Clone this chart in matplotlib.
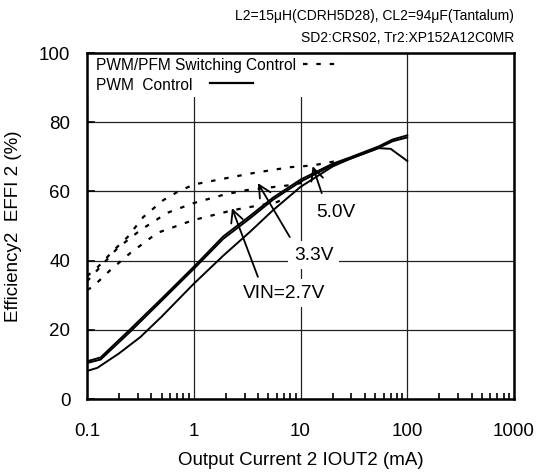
import numpy as np
import matplotlib
matplotlib.use('Agg')
import matplotlib.pyplot as plt
from matplotlib.patches import Rectangle

plt.rcParams['font.family'] = ['Liberation Sans', 'DejaVu Sans']

# PWM control (solid)
pwm_i_27 = [0.1, 0.125, 0.2, 0.316, 0.5, 1.0, 1.9, 3.36, 5.5, 10, 20, 29, 54, 70, 100]
pwm_e_27 = [8.1, 9.0, 13.2, 17.9, 23.8, 33.3, 41.5, 48.3, 54.5, 61.3, 67.2, 69.4, 72.5, 72.3, 68.8]
pwm_i_33 = [0.1, 0.134, 0.255, 0.5, 1.0, 1.89, 3.36, 5.53, 10, 20, 29, 54, 73, 100]
pwm_e_33 = [10.4, 11.4, 19.5, 28.4, 37.6, 46.3, 52.2, 57.6, 62.8, 67.6, 69.4, 72.6, 74.5, 75.6]
pwm_i_50 = [0.1, 0.134, 0.255, 0.5, 1.0, 1.89, 3.36, 5.53, 10, 20, 29, 54, 73, 100]
pwm_e_50 = [10.9, 12.0, 20.2, 29.0, 38.2, 47.0, 52.9, 58.2, 63.4, 68.0, 69.8, 73.0, 75.0, 76.2]

# PWM/PFM switching control (dotted)
pfm_i_27 = [0.1, 0.113, 0.166, 0.255, 0.455, 0.99, 2.35, 6.0, 7.5]
pfm_e_27 = [31.5, 32.4, 37.3, 42.2, 48.0, 51.7, 54.6, 56.9, 58.3]
pfm_i_33 = [0.1, 0.193, 0.316, 0.565, 0.99, 1.89, 3.16, 8.0, 10, 12]
pfm_e_33 = [34.0, 43.6, 48.8, 53.8, 56.6, 59.0, 60.4, 61.8, 62.4, 63.3]
pfm_i_50 = [0.1, 0.125, 0.177, 0.24, 0.337, 0.52, 0.7, 1.0, 2.0, 3.6, 8.0, 13, 22]
pfm_e_50 = [35.5, 38.0, 42.9, 46.8, 52.6, 57.5, 59.8, 62.0, 63.8, 65.3, 67.0, 67.5, 68.8]

x_ticks = [0.1, 1, 10, 100, 1000]
x_tick_labels = ['0.1', '1', '10', '100', '1000']
y_ticks = [0, 20, 40, 60, 80, 100]

# labels: (text, arrow tip, arrow tail, text position)
labels = [
    ('5.0V', (13.0, 67.3), (15.8, 59.5), (21.4, 53.8)),
    ('3.3V', (3.99, 62.4), (7.94, 46.8), (13.3, 41.6)),
    ('VIN=2.7V', (2.28, 55.2), (3.99, 35.3), (6.98, 30.6)),
]

fig = plt.figure(figsize=(5.37, 4.76), dpi=100)
ax = fig.add_axes([87 / 537, 77 / 476, 427 / 537, 346 / 476])

ax.set_xscale('log')
ax.set_xlim(0.1, 1000)
ax.set_ylim(0, 100)

ax.grid(True, which='major', color='#222222', linewidth=0.9, zorder=1)
ax.set_axisbelow(True)

solid_kw = dict(color='black', linewidth=1.4, solid_joinstyle='miter', zorder=3)
ax.plot(pwm_i_27, pwm_e_27, **solid_kw)
ax.plot(pwm_i_33, pwm_e_33, **solid_kw)
ax.plot(pwm_i_50, pwm_e_50, **solid_kw)

dot_kw = dict(color='black', linewidth=1.6, linestyle=(0, (2, 4)), zorder=3)
ax.plot(pfm_i_27, pfm_e_27, **dot_kw)
ax.plot(pfm_i_33, pfm_e_33, **dot_kw)
ax.plot(pfm_i_50, pfm_e_50, **dot_kw)

for text, tip, tail, pos in labels:
    ax.annotate('', xy=tip, xytext=tail,
                arrowprops=dict(arrowstyle='->', color='black', lw=1.3,
                                mutation_scale=22, shrinkA=0, shrinkB=0),
                zorder=4)
    ax.text(pos[0], pos[1], text, ha='center', va='center', fontsize=13.8,
            zorder=5, bbox=dict(facecolor='white', edgecolor='none', pad=4))

# legend block at top left
ax.add_patch(Rectangle((0.003, 0.872), 0.6, 0.124, transform=ax.transAxes,
                       facecolor='white', edgecolor='none', zorder=2))
ax.text(0.022, 0.965, 'PWM/PFM Switching Control', transform=ax.transAxes,
        ha='left', va='center', fontsize=11.2, zorder=5)
ax.text(0.022, 0.907, 'PWM  Control', transform=ax.transAxes,
        ha='left', va='center', fontsize=11.2, zorder=5)
ax.plot([0.506, 0.593], [0.968, 0.968], transform=ax.transAxes, **dot_kw)
ax.plot([0.288, 0.389], [0.912, 0.912], transform=ax.transAxes,
        color='black', linewidth=1.6, zorder=5)

ax.set_xticks(x_ticks)
ax.set_xticklabels(x_tick_labels)
ax.set_yticks(y_ticks)
ax.tick_params(axis='x', which='major', direction='in', length=0, pad=17, labelsize=13.5)
ax.tick_params(axis='x', which='minor', direction='in', length=4.5, width=1.2)
ax.tick_params(axis='y', which='major', direction='in', length=6, width=1.2, pad=12, labelsize=13.5)

for s in ax.spines.values():
    s.set_linewidth(1.8)
    s.set_zorder(6)

ax.set_xlabel('Output Current 2 IOUT2 (mA)', fontsize=13.5, labelpad=9)
ax.set_ylabel('Efficiency2  EFFI 2 (%)', fontsize=13.5, labelpad=12)

fig.text(514 / 537, 1 - 16 / 476, 'L2=15μH(CDRH5D28), CL2=94μF(Tantalum)',
         ha='right', va='center', fontsize=10)
fig.text(514 / 537, 1 - 38 / 476, 'SD2:CRS02, Tr2:XP152A12C0MR',
         ha='right', va='center', fontsize=10)

fig.savefig('out.png', dpi=100)
